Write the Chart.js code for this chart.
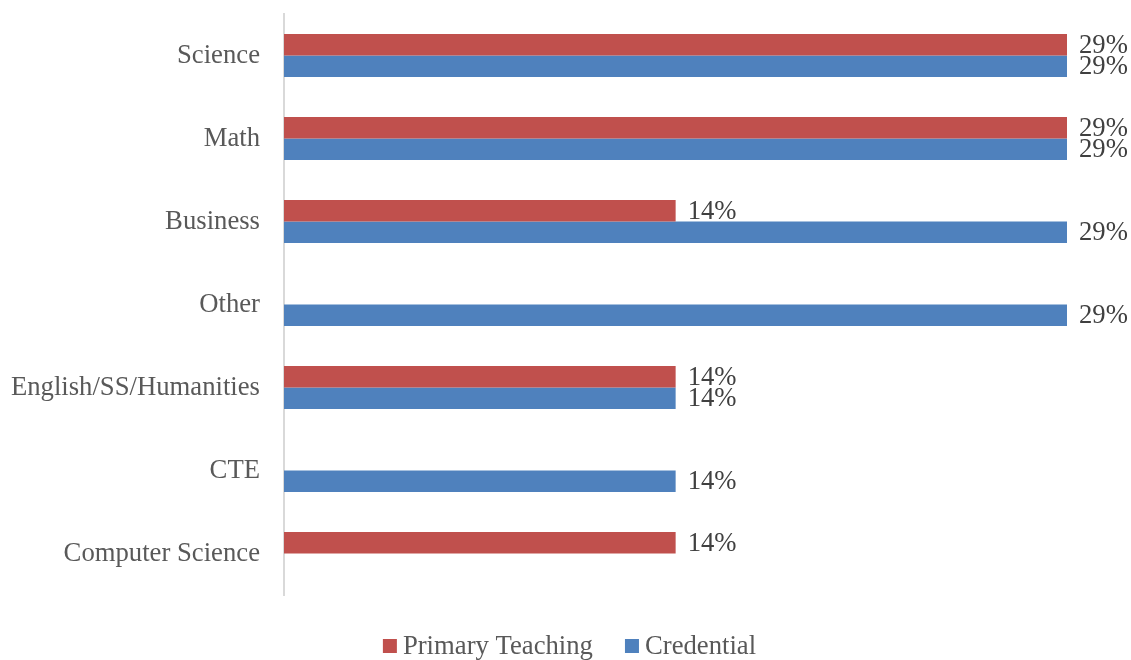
<!DOCTYPE html>
<html>
<head>
<meta charset="utf-8">
<script src="https://cdn.jsdelivr.net/npm/chart.js@4.4.1/dist/chart.umd.min.js"></script>
<style>
  html, body { margin: 0; padding: 0; background: #ffffff; }
  #wrap { position: relative; width: 1131px; height: 660px; }
</style>
</head>
<body>
<div id="wrap"><canvas id="chart" width="1131" height="660"></canvas></div>
<script>
// Subject areas, top to bottom
const categories = ['Science', 'Math', 'Business', 'Other', 'English/SS/Humanities', 'CTE', 'Computer Science'];
// Share of respondents (%); null where a subject was not reported for that group
const primaryTeaching = [28.57, 28.57, 14.29, null, 14.29, null, 14.29];
const credential = [28.57, 28.57, 28.57, 28.57, 14.29, 14.29, null];
const seriesNames = ['Primary Teaching', 'Credential'];
const seriesColors = ['#C0504D', '#4F81BD'];

const FONT = '"Liberation Serif", "Times New Roman", serif';
const FONT_SIZE = 26.7;

// Percentage labels just past the end of each bar
const valueLabels = {
  id: 'valueLabels',
  afterDatasetsDraw(chart) {
    const ctx = chart.ctx;
    ctx.save();
    ctx.font = FONT_SIZE + 'px ' + FONT;
    ctx.fillStyle = '#404040';
    ctx.textAlign = 'left';
    ctx.textBaseline = 'middle';
    chart.data.datasets.forEach((ds, di) => {
      const meta = chart.getDatasetMeta(di);
      meta.data.forEach((bar, i) => {
        const v = ds.data[i];
        if (v === null || v === undefined) return;
        ctx.fillText(Math.round(v) + '%', bar.x + 12, bar.y + 1);
      });
    });
    ctx.restore();
  }
};

// Legend row under the plot: square swatch followed closely by the series name
const bottomLegend = {
  id: 'bottomLegend',
  afterDraw(chart) {
    const ctx = chart.ctx;
    const box = 14, gap = 6, itemGap = 32;
    ctx.save();
    ctx.font = FONT_SIZE + 'px ' + FONT;
    const widths = seriesNames.map(n => ctx.measureText(n).width);
    let total = 0;
    widths.forEach((w, i) => { total += box + gap + w + (i < widths.length - 1 ? itemGap : 0); });
    let x = chart.width / 2 + 4 - total / 2;
    const cy = 646;
    ctx.textBaseline = 'middle';
    ctx.textAlign = 'left';
    seriesNames.forEach((name, i) => {
      ctx.fillStyle = seriesColors[i];
      ctx.fillRect(x, cy - box / 2, box, box);
      ctx.fillStyle = '#595959';
      ctx.fillText(name, x + box + gap, cy + 1);
      x += box + gap + widths[i] + itemGap;
    });
    ctx.restore();
  }
};

new Chart(document.getElementById('chart'), {
  type: 'bar',
  data: {
    labels: categories,
    datasets: [
      { label: seriesNames[0], data: primaryTeaching, backgroundColor: seriesColors[0] },
      { label: seriesNames[1], data: credential, backgroundColor: seriesColors[1] }
    ]
  },
  options: {
    indexAxis: 'y',
    responsive: false,
    animation: false,
    devicePixelRatio: 1,
    categoryPercentage: 0.52,
    barPercentage: 1.0,
    layout: { padding: { top: 14, bottom: 65, left: 0, right: 64 } },
    plugins: {
      legend: { display: false },
      tooltip: { enabled: false }
    },
    scales: {
      x: {
        display: false,
        min: 0,
        max: 28.57
      },
      y: {
        afterFit(scale) {
          scale.width = 284;
          scale.paddingTop = 0;
          scale.paddingBottom = 0;
        },
        grid: { display: false, drawTicks: false },
        border: { display: true, color: '#d9d9d9', width: 2 },
        ticks: {
          color: '#595959',
          padding: 24,
          font: { family: FONT, size: FONT_SIZE }
        }
      }
    }
  },
  plugins: [valueLabels, bottomLegend]
});
</script>
</body>
</html>
